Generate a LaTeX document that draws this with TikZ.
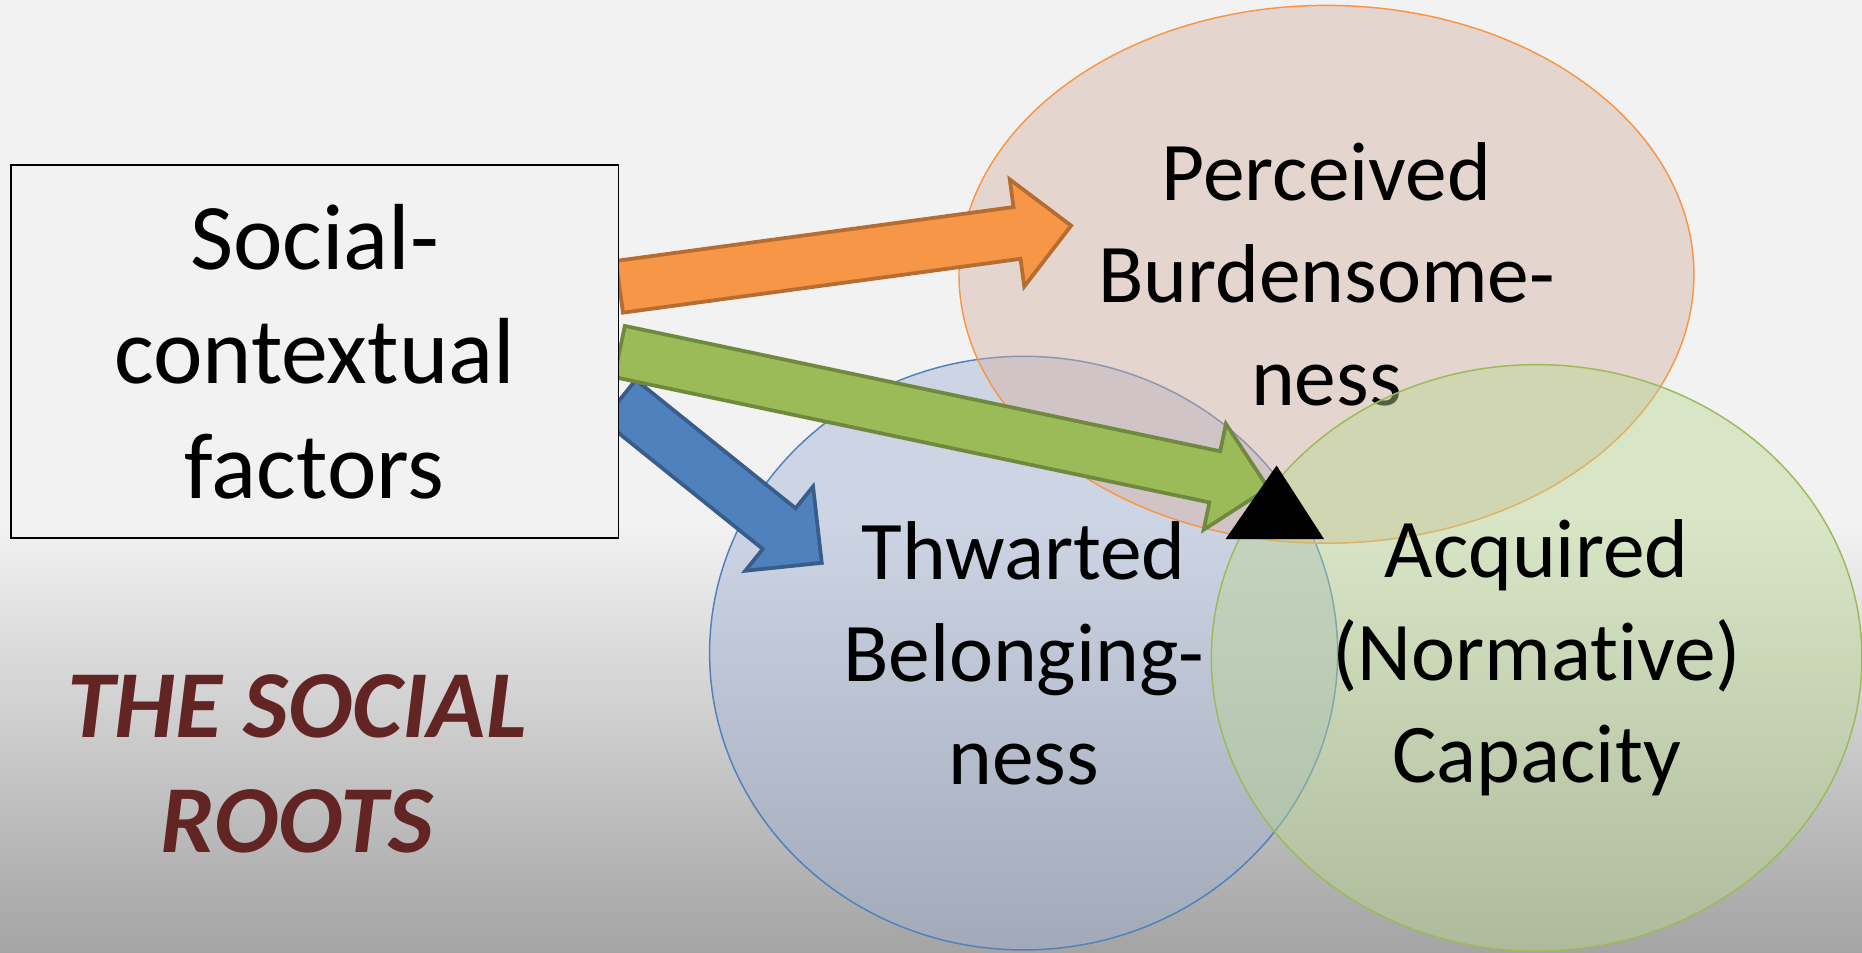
\documentclass[tikz,border=0pt]{standalone}
\usepackage{fontspec}
\setmainfont{Carlito}[Ligatures=NoCommon]
\usetikzlibrary{calc,positioning,shapes.geometric}
\pgfdeclarelayer{bg}
\pgfdeclarelayer{fg}
\pgfsetlayers{bg,main,fg}

\definecolor{bgtop}{HTML}{F2F2F2}
\definecolor{bgbot}{HTML}{A4A4A4}
\definecolor{rootred}{HTML}{632523}
\definecolor{accorange}{HTML}{F79646}
\definecolor{accorangedk}{HTML}{B66D31}
\definecolor{accgreen}{HTML}{9BBB59}
\definecolor{accgreendk}{HTML}{71893F}
\definecolor{accblue}{HTML}{4F81BD}
\definecolor{accbluedk}{HTML}{385D8A}
\definecolor{ellorange}{RGB}{213,178,164}
\definecolor{ellblue}{RGB}{160,176,212}
\definecolor{ellgreen}{RGB}{185,215,145}

\tikzset{
  venn/.style={ellipse, inner sep=0pt, line width=0.7pt, fill opacity=0.45,
    text opacity=1, align=center, font=\fontsize{40}{49}\selectfont},
  factbox/.style={draw, fill=bgtop, line width=0.8pt, inner sep=0pt,
    minimum width=10.24cm, minimum height=6.28cm, align=center,
    font=\fontsize{45}{55}\selectfont},
  orangearrow/.style={fill=accorange, draw=accorangedk, line width=1.8pt},
  greenarrow/.style={fill=accgreen, draw=accgreendk, line width=1.8pt},
  bluearrow/.style={fill=accblue, draw=accbluedk, line width=1.8pt},
}

% block arrow: style, tail, tip, name
\newcommand{\blockarrow}[4]{%
  \coordinate (#4neck) at ($(#3)!0.92cm!(#2)$);
  \draw[#1] ($(#2)!0.44cm!90:(#3)$) -- ($(#4neck)!0.44cm!90:(#3)$)
    -- ($(#4neck)!0.91cm!90:(#3)$) -- (#3)
    -- ($(#4neck)!0.91cm!-90:(#3)$) -- ($(#4neck)!0.44cm!-90:(#3)$)
    -- ($(#2)!0.44cm!-90:(#3)$) -- cycle;
}

\begin{document}
\begin{tikzpicture}[x=0.02cm,y=-0.02cm]
	\useasboundingbox (0,0) rectangle (1568,802.5);
	\begin{pgfonlayer}{bg}
		\fill[bgtop] (0,0) rectangle (1568,802.5);
		\shade[top color=bgtop,bottom color=bgbot] (0,440) rectangle (1568,802.5);
	\end{pgfonlayer}
	\begin{pgfonlayer}{fg}
		\node[factbox] (scf) at (265,296) {Social-\\contextual\\factors};
	\end{pgfonlayer}
	% the three factors
	\node[venn, draw=accblue, fill=ellblue, minimum width=10.58cm, minimum height=10cm] (tb) at (862,550) {Thwarted\\Belonging-\\ness};
	\node[venn, draw=accorange, fill=ellorange, minimum width=12.38cm, minimum height=9.06cm] (pb) at (1117,231) {Perceived\\Burdensome-\\ness};
	\node[venn, draw=accgreen, fill=ellgreen, minimum width=10.96cm, minimum height=9.88cm] (ac) at (1294,554) {Acquired\\(Normat\kern0pt ive)\\Capacity};
	\node[text=rootred, align=center, font=\fontsize{46}{55}\selectfont\bfseries\itshape] (title) at (250,643) {THE SOCIAL\\ROOTS};
	% arrows
	\coordinate (btail) at ($(scf.east)+(0,41)$);
	\coordinate (btip) at (692,474);
	\coordinate (otail) at ($(scf.east)+(0,-54.5)$);
	\coordinate (otip) at (902,190);
	\coordinate (gtail) at (scf.east);
	\coordinate (gtip) at (1068,411);
	\blockarrow{bluearrow}{btail}{btip}{b}
	\blockarrow{orangearrow}{otail}{otip}{o}
	\blockarrow{greenarrow}{gtail}{gtip}{g}
	\coordinate (apex) at (1075,392);
	\fill (apex) -- (1032,454) -- (1115,454) -- cycle;
\end{tikzpicture}
\end{document}
